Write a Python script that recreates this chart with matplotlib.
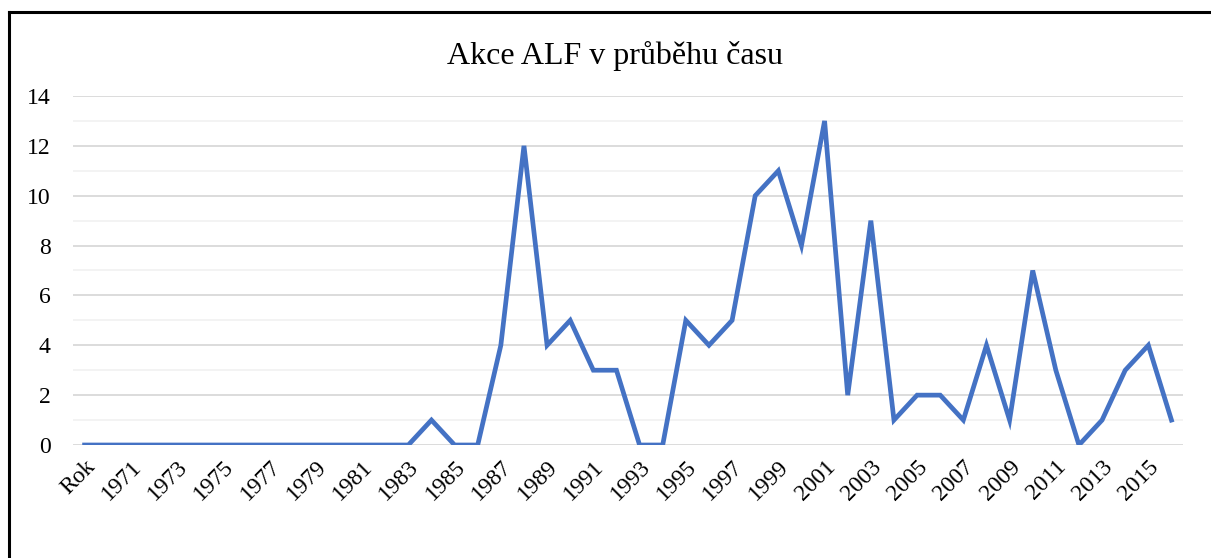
import matplotlib.pyplot as plt
from matplotlib.lines import Line2D

plt.rcParams['font.family'] = ['Liberation Serif', 'DejaVu Serif']

# Data
roky = ['Rok'] + [str(r) for r in range(1970, 2017)]
akce = [0,
        0, 0, 0, 0, 0, 0, 0, 0, 0, 0,   # 1970-1979
        0, 0, 0, 0, 1, 0, 0, 4, 12, 4,  # 1980-1989
        5, 3, 3, 0, 0, 5, 4, 5, 10, 11,  # 1990-1999
        8, 13, 2, 9, 1, 2, 2, 1, 4, 1,   # 2000-2009
        7, 3, 0, 1, 3, 4, 1]             # 2010-2016

fig = plt.figure(figsize=(12.11, 5.58), dpi=100)
ax = fig.add_axes([0.0603, 0.2025, 0.9166, 0.6255])

x = list(range(len(roky)))
ax.plot(x, akce, color='#4472C4', linewidth=3.4, solid_joinstyle='miter', zorder=3)

ax.set_xlim(-0.5, len(roky) - 0.5)
ax.set_ylim(0, 14)
ax.set_yticks(range(0, 15, 2))
ax.set_yticks(range(1, 15, 2), minor=True)
ax.grid(axis='y', which='major', color='#d9d9d9', linewidth=1.3)
ax.grid(axis='y', which='minor', color='#f2f2f2', linewidth=1.3)
ax.set_axisbelow(True)

ax.set_xticks(x[::2])
ax.set_xticklabels(roky[::2], rotation=45, ha='right', rotation_mode='anchor')
ax.tick_params(axis='x', length=0, pad=8, labelsize=17)
ax.tick_params(axis='y', which='both', length=0, pad=16, labelsize=17)
for s in ax.spines.values():
    s.set_visible(False)

fig.text(0.508, 0.90, 'Akce ALF v průběhu času', ha='center', va='center', fontsize=23)

# ramecek (jen horni a leva hrana)
fig.add_artist(Line2D([0.0075, 1.0], [0.9785, 0.9785], color='black', linewidth=2.2, transform=fig.transFigure))
fig.add_artist(Line2D([0.0075, 0.0075], [0.0, 0.9785], color='black', linewidth=2.2, transform=fig.transFigure))

plt.savefig('out.png', dpi=100)
